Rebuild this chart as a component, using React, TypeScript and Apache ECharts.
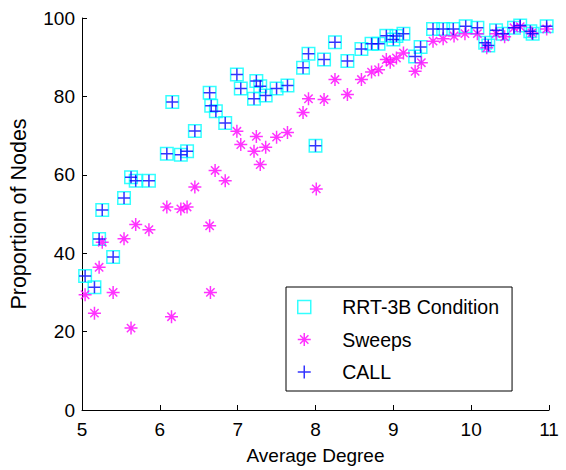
import React, { useEffect, useRef } from "react";
import * as echarts from "echarts";

const FONT = "'Liberation Sans', Arial, Helvetica, sans-serif";

// RRT-3B Condition (cyan open squares)
const rrtX = [
  5.04, 5.16, 5.22, 5.26, 5.40, 5.54, 5.63, 5.69, 5.86, 6.09, 6.16, 6.27, 6.35, 6.45,
  6.64, 6.66, 6.72, 6.84, 6.99, 7.04, 7.21, 7.24, 7.29, 7.36, 7.50, 7.64, 7.84, 7.91,
  8.00, 8.11, 8.25, 8.41, 8.59, 8.72, 8.81, 8.91, 9.00, 9.04, 9.13, 9.28, 9.35, 9.51,
  9.64, 9.77, 9.93, 10.08, 10.18, 10.22, 10.32, 10.41, 10.55, 10.63, 10.76, 10.79, 10.97,
];
const rrtY = [
  34.2, 31.3, 43.6, 51.0, 39.0, 54.1, 59.4, 58.5, 58.5, 65.4, 78.6, 65.1, 66.0, 71.2,
  80.9, 77.6, 76.2, 73.2, 85.6, 82.0, 79.4, 83.9, 82.6, 80.2, 82.0, 82.8, 87.3, 90.9,
  67.4, 89.4, 93.8, 89.0, 92.1, 93.4, 93.4, 95.5, 94.5, 95.4, 96.0, 90.2, 92.6, 97.2,
  97.2, 97.2, 97.9, 97.5, 93.7, 93.0, 96.9, 96.0, 97.5, 98.1, 96.6, 96.0, 97.9,
];

// Sweeps (magenta asterisks)
const sweepX = [
  5.04, 5.16, 5.22, 5.26, 5.40, 5.54, 5.63, 5.69, 5.86, 6.09, 6.15, 6.27, 6.35, 6.45,
  6.64, 6.65, 6.71, 6.84, 6.99, 7.04, 7.21, 7.24, 7.29, 7.36, 7.50, 7.64, 7.84, 7.91,
  8.01, 8.11, 8.25, 8.41, 8.59, 8.72, 8.81, 8.91, 8.96, 9.04, 9.13, 9.28, 9.36, 9.51,
  9.64, 9.78, 9.92, 10.08, 10.20, 10.32, 10.43, 10.55, 10.63, 10.78, 10.97,
];
const sweepY = [
  29.4, 24.7, 36.4, 42.8, 30.0, 43.7, 20.9, 47.3, 46.0, 51.8, 23.8, 51.3, 51.8, 56.9,
  47.0, 30.0, 61.1, 58.5, 71.1, 67.7, 66.0, 69.8, 62.6, 67.0, 69.6, 70.8, 75.9, 79.4,
  56.4, 79.2, 84.3, 80.5, 84.3, 86.2, 86.8, 89.4, 88.7, 89.8, 91.1, 86.4, 88.6, 94.1,
  94.7, 95.4, 96.0, 96.0, 92.4, 96.0, 95.2, 97.5, 97.8, 96.2, 97.2,
];

// CALL (blue plus) – coincides with the RRT-3B Condition points
const callX = [...rrtX];
const callY = [...rrtY];

const xMin = 5, xMax = 11, xStep = 1;
const yMin = 0, yMax = 100, yStep = 20;

const seriesNames = ["RRT-3B Condition", "Sweeps", "CALL"];
const seriesColors = ["#00ffff", "#ff00ff", "#0000ff"];

const SQUARE = "path://M0,0L10,0L10,10L0,10Z";
const ASTERISK = "path://M5,0L5,10M0,5L10,5M1.8,1.8L8.2,8.2M8.2,1.8L1.8,8.2";
const PLUS = "path://M5,0L5,10M0,5L10,5";
const symbols = [SQUARE, ASTERISK, PLUS];
const sizes = [12.5, 13, 12];

const zip = (xs: number[], ys: number[]) => xs.map((x, i) => [x, ys[i]]);

export default function App() {
  const ref = useRef<HTMLDivElement>(null);
  useEffect(() => {
    if (!ref.current) return;
    const chart = echarts.init(ref.current, undefined, { renderer: "svg" });
    const datasets = [zip(rrtX, rrtY), zip(sweepX, sweepY), zip(callX, callY)];
    const axisCommon = {
      type: "value" as const,
      nameLocation: "middle" as const,
      axisLine: { show: true, lineStyle: { color: "#000", width: 1 } },
      axisTick: { show: true, inside: true, length: 5, lineStyle: { color: "#000" } },
      splitLine: { show: false },
    };
    chart.setOption({
      animation: false,
      textStyle: { fontFamily: FONT },
      grid: { left: 82, right: 17, top: 18, bottom: 60, containLabel: false },
      xAxis: {
        ...axisCommon,
        min: xMin,
        max: xMax,
        interval: xStep,
        name: "Average Degree",
        nameGap: 36,
        nameTextStyle: { fontSize: 19, color: "#000", fontFamily: FONT },
        axisLabel: { fontSize: 19, color: "#000", margin: 10, fontFamily: FONT, showMinLabel: true, showMaxLabel: true },
      },
      yAxis: {
        ...axisCommon,
        min: yMin,
        max: yMax,
        interval: yStep,
        name: "Proportion of Nodes",
        nameGap: 52,
        nameTextStyle: { fontSize: 21.5, color: "#000", fontFamily: FONT },
        axisLabel: { fontSize: 19, color: "#000", margin: 7, fontFamily: FONT, showMinLabel: true, showMaxLabel: true },
      },
      legend: {
        orient: "vertical",
        left: 286,
        top: 287,
        padding: [10, 13, 9, 11],
        itemWidth: 66,
        itemHeight: 13,
        itemGap: 12.5,
        borderColor: "#000",
        borderWidth: 1,
        borderRadius: 0,
        backgroundColor: "#fff",
        selectedMode: false,
        textStyle: { fontSize: 19.5, color: "#000", fontFamily: FONT, lineHeight: 20 },
        data: seriesNames.map((n, i) => ({
          name: n,
          icon: symbols[i],
          itemStyle: { color: "transparent", borderColor: seriesColors[i], borderWidth: 1.5 },
        })),
      },
      series: seriesNames.map((n, i) => ({
        type: "scatter",
        name: n,
        data: datasets[i],
        symbol: symbols[i],
        symbolSize: sizes[i],
        symbolKeepAspect: true,
        itemStyle: { color: "transparent", borderColor: seriesColors[i], borderWidth: 1.5 },
        emphasis: { disabled: true },
        z: 2 + i,
      })),
    });
    return () => chart.dispose();
  }, []);
  return (
    <div
      ref={ref}
      style={{ position: "fixed", left: 0, top: 0, width: 566, height: 470, background: "#fff" }}
    />
  );
}
